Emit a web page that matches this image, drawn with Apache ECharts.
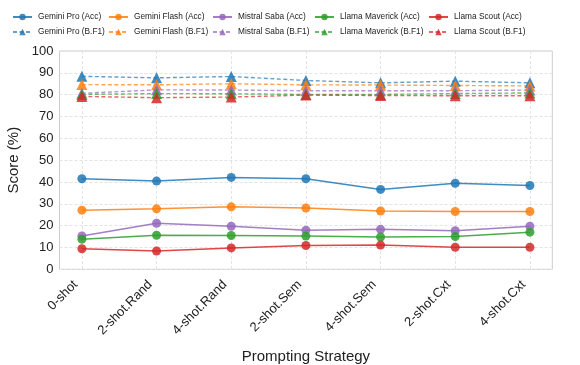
<!DOCTYPE html>
<html>
<head>
<meta charset="utf-8">
<script src="https://cdn.jsdelivr.net/npm/echarts@6/dist/echarts.min.js"></script>
<style>
  html, body { margin: 0; padding: 0; background: #fff; }
  #chart { width: 580px; height: 365px; }
</style>
</head>
<body>
<div id="chart"></div>
<script>
// Prompting strategies along the x axis
const strategies = ['0-shot', '2-shot.Rand', '4-shot.Rand', '2-shot.Sem', '4-shot.Sem', '2-shot.Cxt', '4-shot.Cxt'];

// Accuracy (%) per model
const geminiProAcc     = [41.5, 40.4, 42.1, 41.5, 36.6, 39.4, 38.4];
const geminiFlashAcc   = [27.1, 27.7, 28.6, 28.1, 26.7, 26.5, 26.5];
const mistralSabaAcc   = [15.3, 21.1, 19.7, 17.9, 18.3, 17.7, 19.7];
const llamaMaverickAcc = [13.8, 15.6, 15.5, 15.2, 14.8, 15.0, 17.0];
const llamaScoutAcc    = [9.4, 8.4, 9.8, 10.9, 11.1, 10.1, 10.1];

// B.F1 (%) per model
const geminiProBF1     = [88.4, 87.7, 88.3, 86.5, 85.4, 86.2, 85.4];
const geminiFlashBF1   = [84.6, 84.5, 85.0, 84.5, 84.4, 84.2, 84.0];
const mistralSabaBF1   = [80.6, 82.2, 82.1, 81.8, 81.8, 81.8, 82.1];
const llamaMaverickBF1 = [80.1, 80.5, 80.4, 80.1, 80.1, 80.5, 80.8];
const llamaScoutBF1    = [79.2, 78.6, 78.9, 79.8, 79.6, 79.5, 79.5];

const yTicks = { min: 0, max: 100, step: 10 };

const models = [
  { name: 'Gemini Pro',     color: '#1f77b4', acc: geminiProAcc,     bf1: geminiProBF1 },
  { name: 'Gemini Flash',   color: '#ff7f0e', acc: geminiFlashAcc,   bf1: geminiFlashBF1 },
  { name: 'Mistral Saba',   color: '#9467bd', acc: mistralSabaAcc,   bf1: mistralSabaBF1 },
  { name: 'Llama Maverick', color: '#2ca02c', acc: llamaMaverickAcc, bf1: llamaMaverickBF1 },
  { name: 'Llama Scout',    color: '#d62728', acc: llamaScoutAcc,    bf1: llamaScoutBF1 }
];

const idx = strategies.map((_, i) => i);
const pairs = arr => arr.map((v, i) => [i, v]);

const series = [];
models.forEach(m => {
  series.push({
    name: m.name + ' (Acc)',
    type: 'line',
    data: pairs(m.acc),
    symbol: 'circle',
    symbolSize: 9,
    color: m.color,
    lineStyle: { width: 1.5, color: m.color, opacity: 0.85 },
    itemStyle: { color: m.color, opacity: 0.85 },
    z: 3
  });
});
models.forEach(m => {
  series.push({
    name: m.name + ' (B.F1)',
    type: 'line',
    data: pairs(m.bf1),
    symbol: 'triangle',
    symbolSize: 11,
    color: m.color,
    lineStyle: { width: 1.4, type: [4, 2.5], color: m.color, opacity: 0.7 },
    itemStyle: { color: m.color, opacity: 0.85 },
    z: 4
  });
});

// One legend entry per cell so the two rows line up in columns
const colLeft = [12, 108, 212, 314, 428];
const rowTop = [13, 28];
const legends = [];
models.forEach((m, c) => {
  ['(Acc)', '(B.F1)'].forEach((suffix, r) => {
    legends.push({
      data: [m.name + ' ' + suffix],
      left: colLeft[c],
      top: rowTop[r],
      padding: 0,
      itemWidth: 19,
      itemHeight: 8,
      selectedMode: false,
      textStyle: { fontFamily: 'Liberation Sans, Arial, sans-serif', fontSize: 8.3, color: '#222', padding: [0, 0, 0, 1] }
    });
  });
});

const chart = echarts.init(document.getElementById('chart'), null, { renderer: 'canvas' });
chart.setOption({
  animation: false,
  backgroundColor: '#fff',
  textStyle: { fontFamily: 'Liberation Sans, Arial, sans-serif' },
  legend: legends,
  grid: {
    left: 59.5, right: 27.7, top: 51, bottom: 95.7,
    outerBoundsMode: 'none',
    containLabel: false,
    show: true, borderColor: '#cccccc', borderWidth: 1, backgroundColor: '#fff'
  },
  xAxis: {
    type: 'value',
    min: -0.3,
    max: strategies.length - 1 + 0.3,
    name: 'Prompting Strategy',
    nameLocation: 'middle',
    nameGap: 80,
    nameTextStyle: { fontSize: 15, color: '#222' },
    axisLine: { show: false },
    axisTick: { show: false, customValues: idx },
    axisLabel: {
      customValues: idx,
      formatter: v => strategies[Math.round(v)],
      rotate: 45,
      fontSize: 13,
      color: '#222',
      margin: 7,
      padding: [0, 9, 0, 0]
    },
    splitLine: { show: true, lineStyle: { color: '#e3e3e3', type: [3, 2], width: 1 } }
  },
  yAxis: {
    type: 'value',
    min: yTicks.min,
    max: yTicks.max,
    interval: yTicks.step,
    name: 'Score (%)',
    nameLocation: 'middle',
    nameGap: 37,
    nameTextStyle: { fontSize: 15, color: '#222' },
    axisLine: { show: false },
    axisTick: { show: false },
    axisLabel: { fontSize: 13, color: '#222', margin: 6 },
    splitLine: { show: true, lineStyle: { color: '#e3e3e3', type: [3, 2], width: 1 } }
  },
  series: series
});
</script>
</body>
</html>
